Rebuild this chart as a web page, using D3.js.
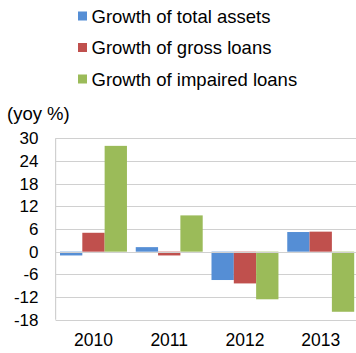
<!DOCTYPE html>
<html>
<head>
<meta charset="utf-8">
<script src="https://cdn.jsdelivr.net/npm/d3@7"></script>
<style>
  body { margin: 0; background: #fff; }
  text { font-family: "Liberation Sans", Arial, sans-serif; fill: #000; }
</style>
</head>
<body>
<div id="chart"></div>
<script>
// chart data
var years = ['2010', '2011', '2012', '2013'];
var seriesNames = ['Growth of total assets', 'Growth of gross loans', 'Growth of impaired loans'];
var totalAssets = [-1.0, 1.2, -7.5, 5.2];
var grossLoans = [5.0, -1.0, -8.4, 5.3];
var impairedLoans = [28.0, 9.6, -12.6, -15.9];
var yTicks = [30, 24, 18, 12, 6, 0, -6, -12, -18];
var colors = ['#558ed5', '#c0504d', '#9bbb59'];

// svg area
var svgWidth = 356;
var svgHeight = 353;

var plot = { left: 55.6, right: 358.6, top: 138.3, bottom: 319.7 };

var svg = d3.select('#chart')
    .append('svg')
    .attr('width', svgWidth)
    .attr('height', svgHeight);

// rows for grouped bars
var rows = years.map((y, i) => ({
    year: y,
    values: [totalAssets[i], grossLoans[i], impairedLoans[i]]
}));

var xScale = d3.scaleBand()
    .domain(years)
    .range([plot.left, plot.right]);

var xSub = d3.scaleBand()
    .domain(d3.range(seriesNames.length))
    .range([4.4, xScale.bandwidth() - 4.4]);

var yScale = d3.scaleLinear()
    .domain([-18, 30])
    .range([plot.bottom, plot.top]);

// gridlines
svg.append('g')
    .selectAll('line')
    .data(yTicks)
    .enter()
    .append('line')
    .attr('x1', plot.left)
    .attr('x2', plot.right)
    .attr('y1', d => Math.round(yScale(d)) + 0.5)
    .attr('y2', d => Math.round(yScale(d)) + 0.5)
    .attr('stroke', '#d0d0d0')
    .attr('stroke-width', 1.2);

// left axis line
svg.append('line')
    .attr('x1', plot.left)
    .attr('x2', plot.left)
    .attr('y1', plot.top)
    .attr('y2', plot.bottom)
    .attr('stroke', '#d0d0d0')
    .attr('stroke-width', 1.2);

// bars
var groups = svg.append('g')
    .selectAll('g')
    .data(rows)
    .enter()
    .append('g')
    .attr('transform', d => `translate(${xScale(d.year)}, 0)`);

groups.selectAll('rect')
    .data(d => d.values)
    .enter()
    .append('rect')
    .attr('x', (d, i) => xSub(i))
    .attr('width', xSub.bandwidth())
    .attr('y', d => yScale(Math.max(0, d)))
    .attr('height', d => Math.abs(yScale(d) - yScale(0)))
    .attr('fill', (d, i) => colors[i]);

// zero line on top of bars
svg.append('line')
    .attr('x1', plot.left)
    .attr('x2', plot.right)
    .attr('y1', Math.round(yScale(0)) + 0.5)
    .attr('y2', Math.round(yScale(0)) + 0.5)
    .attr('stroke', '#d0d0d0')
    .attr('stroke-width', 1.2);

// y tick labels
svg.append('g')
    .selectAll('text')
    .data(yTicks)
    .enter()
    .append('text')
    .attr('x', 38.5)
    .attr('y', d => yScale(d))
    .attr('dy', '0.36em')
    .attr('text-anchor', 'end')
    .style('font-size', '17px')
    .text(d => d);

// x tick labels
svg.append('g')
    .selectAll('text')
    .data(years)
    .enter()
    .append('text')
    .attr('x', d => xScale(d) + xScale.bandwidth() / 2)
    .attr('y', 340)
    .attr('dy', '0.36em')
    .attr('text-anchor', 'middle')
    .style('font-size', '17.5px')
    .text(d => d);

// unit label
svg.append('text')
    .attr('x', 7)
    .attr('y', 113)
    .attr('dy', '0.36em')
    .style('font-size', '18.5px')
    .text('(yoy %)');

// legend
var legend = svg.append('g')
    .selectAll('g')
    .data(seriesNames)
    .enter()
    .append('g')
    .attr('transform', (d, i) => `translate(78, ${16 + i * 31.5})`);

legend.append('rect')
    .attr('x', 0)
    .attr('y', -4.5)
    .attr('width', 9)
    .attr('height', 9)
    .attr('fill', (d, i) => colors[i]);

legend.append('text')
    .attr('x', 13.5)
    .attr('y', 0)
    .attr('dy', '0.36em')
    .style('font-size', '18.5px')
    .text(d => d);
</script>
</body>
</html>
